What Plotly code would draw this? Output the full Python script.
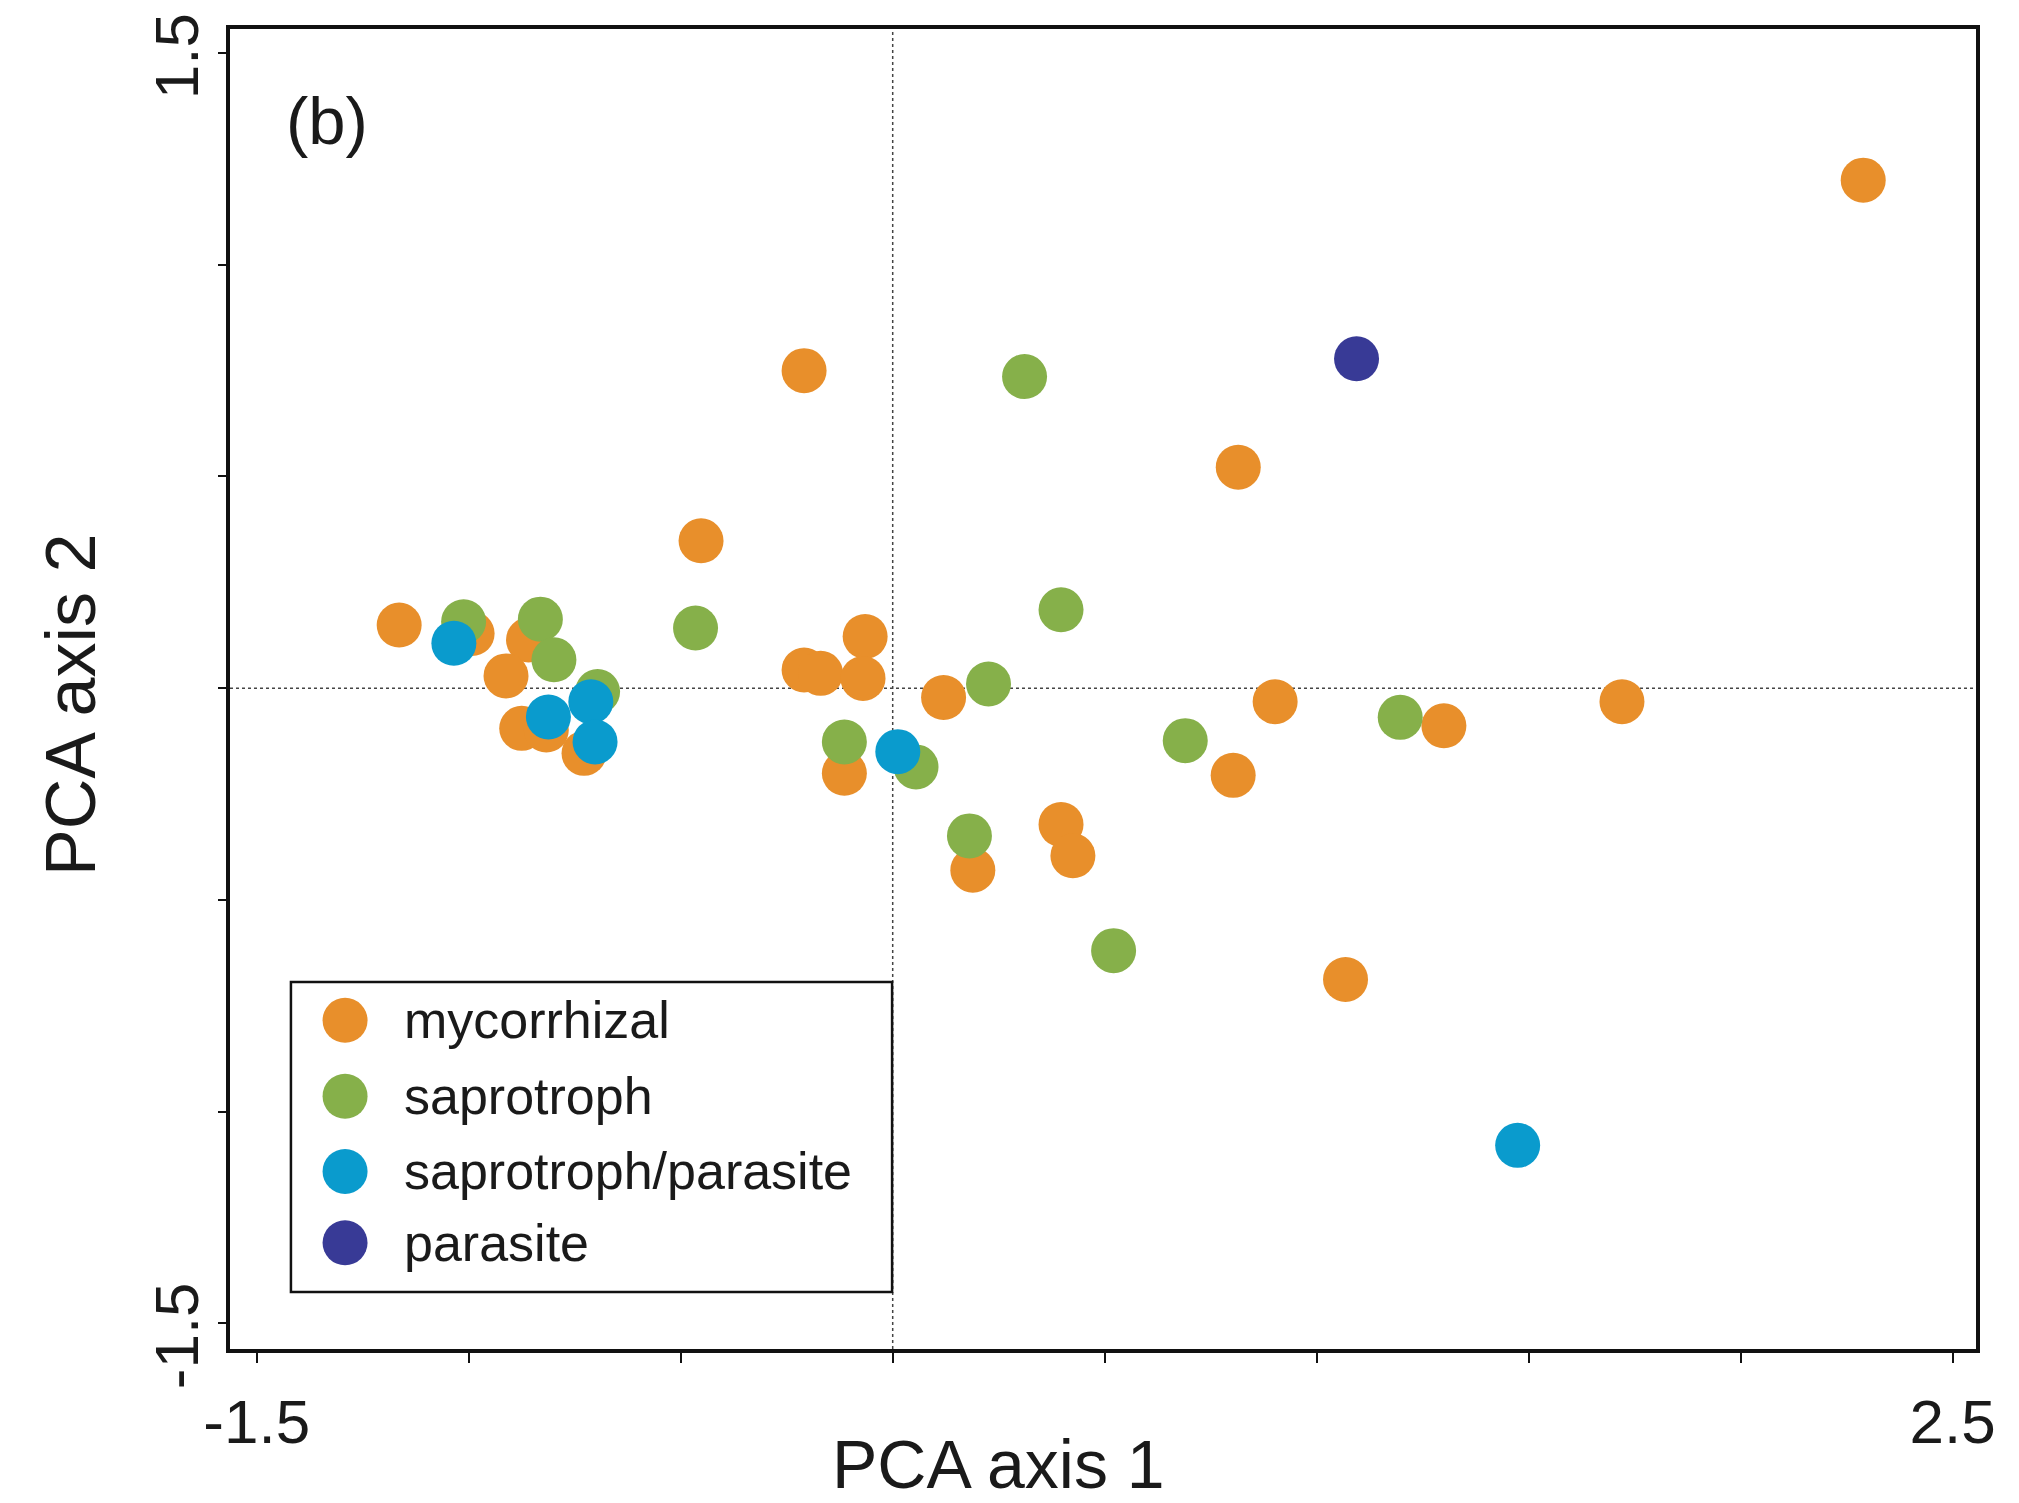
import plotly.graph_objects as go

# ---- data ----
categories = ["mycorrhizal", "saprotroph", "saprotroph/parasite", "parasite"]
colors = ["#E88F2B", "#86B04A", "#0A9BCD", "#383A96"]

myco_x = [2.289, -0.209, 0.815, -0.452, -1.164, -0.992, -0.859, -0.912, -0.875, -0.817,
          -0.728, -0.209, -0.170, -0.065, -0.070, 0.120, -0.114, 0.902, 1.300, 1.720,
          0.803, 0.397, 0.425, 0.189, 1.068]
myco_y = [1.200, 0.750, 0.522, 0.348, 0.149, 0.129, 0.114, 0.029, -0.095, -0.099,
          -0.154, 0.043, 0.035, 0.122, 0.023, -0.022, -0.201, -0.032, -0.089, -0.032,
          -0.206, -0.322, -0.396, -0.430, -0.688]

sapro_x = [0.311, 0.397, -1.012, -0.831, -0.799, -0.465, -0.696, 0.226, -0.114, 0.055,
           0.181, 0.521, 0.690, 1.197]
sapro_y = [0.736, 0.185, 0.157, 0.163, 0.067, 0.142, -0.008, 0.010, -0.127, -0.186,
           -0.349, -0.620, -0.124, -0.069]

sappar_x = [-1.035, -0.712, -0.812, -0.702, 0.012, 1.474]
sappar_y = [0.106, -0.032, -0.068, -0.127, -0.150, -1.080]

para_x = [1.094]
para_y = [0.778]

x_ticks = [-1.5, -1.0, -0.5, 0.0, 0.5, 1.0, 1.5, 2.0, 2.5]
x_ticktext = ["-1.5", "", "", "", "", "", "", "", "2.5"]
y_ticks = [-1.5, -1.0, -0.5, 0.0, 0.5, 1.0, 1.5]
y_ticklabels = {-1.5: "-1.5", 1.5: "1.5"}   # only the end ticks are labelled

series = [(myco_x, myco_y), (sapro_x, sapro_y), (sappar_x, sappar_y), (para_x, para_y)]

FONT = "Liberation Sans, Arial, sans-serif"
MSIZE = 45

fig = go.Figure()
for name, col, (xs, ys) in zip(categories, colors, series):
    fig.add_trace(go.Scatter(
        x=xs, y=ys, mode="markers", name=name,
        marker=dict(color=col, size=MSIZE, line=dict(width=0)),
        showlegend=False,
    ))

shapes = [
    dict(type="line", xref="x", yref="paper", x0=0, x1=0, y0=0, y1=1,
         line=dict(color="#444", width=1.5, dash="dot"), layer="below"),
    dict(type="line", xref="paper", yref="y", x0=0, x1=1, y0=0, y1=0,
         line=dict(color="#444", width=1.5, dash="dot"), layer="below"),
    # legend box
    dict(type="rect", xref="paper", yref="paper", x0=0.0349, x1=0.3792, y0=0.0432, y1=0.278,
         line=dict(color="#111", width=2.5), fillcolor="white", layer="above"),
]
annotations = []
leg_y = [0.249, 0.1915, 0.1345, 0.0805]
for name, col, ly in zip(categories, colors, leg_y):
    shapes.append(dict(type="circle", xref="paper", yref="paper",
                       xsizemode="pixel", ysizemode="pixel",
                       xanchor=0.0659, yanchor=ly,
                       x0=-MSIZE / 2, x1=MSIZE / 2, y0=-MSIZE / 2, y1=MSIZE / 2,
                       fillcolor=col, line=dict(width=0), layer="above"))
    annotations.append(dict(text=name, xref="paper", yref="paper", x=0.0985, y=ly,
                            xanchor="left", yanchor="middle", showarrow=False,
                            font=dict(family=FONT, size=52, color="#1a1a1a")))

# y tick labels (rotated), placed on the y scale
for val, lab in y_ticklabels.items():
    annotations.append(dict(text=lab, xref="paper", yref="y", x=-0.0309, y=val,
                            xanchor="center", yanchor="middle", showarrow=False,
                            textangle=-90, yshift=-3 if val > 0 else -13,
                            font=dict(family=FONT, size=62, color="#1a1a1a")))

annotations += [
    dict(text="(b)", xref="paper", yref="paper", x=0.0555, y=0.931,
         xanchor="center", yanchor="middle", showarrow=False,
         font=dict(family=FONT, size=67, color="#1a1a1a")),
    dict(text="PCA axis 1", xref="paper", yref="paper", x=0.440, y=-0.0875,
         xanchor="center", yanchor="middle", showarrow=False,
         font=dict(family=FONT, size=68, color="#1a1a1a")),
    dict(text="PCA axis 2", xref="paper", yref="paper", x=-0.091, y=0.488,
         xanchor="center", yanchor="middle", showarrow=False, textangle=-90,
         font=dict(family=FONT, size=70, color="#1a1a1a")),
]

# the page body has an 8px default margin: size/margins compensate for it
fig.update_layout(
    width=2011, height=1495,
    margin=dict(l=222, r=43, t=21, b=154),
    paper_bgcolor="white", plot_bgcolor="white",
    shapes=shapes, annotations=annotations,
    showlegend=False,
    xaxis=dict(range=[-1.563, 2.555], tickvals=x_ticks, ticktext=x_ticktext,
               ticks="outside", ticklen=10, tickwidth=2, tickcolor="#111",
               showline=True, linecolor="#111", linewidth=4, mirror=True,
               showgrid=False, zeroline=False, automargin=False,
               ticklabelstandoff=6, ticklabeloverflow="allow",
               tickfont=dict(family=FONT, size=62, color="#1a1a1a")),
    yaxis=dict(range=[-1.561, 1.557], tickvals=y_ticks, showticklabels=False,
               ticks="outside", ticklen=8, tickwidth=2, tickcolor="#111",
               showline=True, linecolor="#111", linewidth=4, mirror=True,
               showgrid=False, zeroline=False, automargin=False),
)

fig.write_html("out.html")
